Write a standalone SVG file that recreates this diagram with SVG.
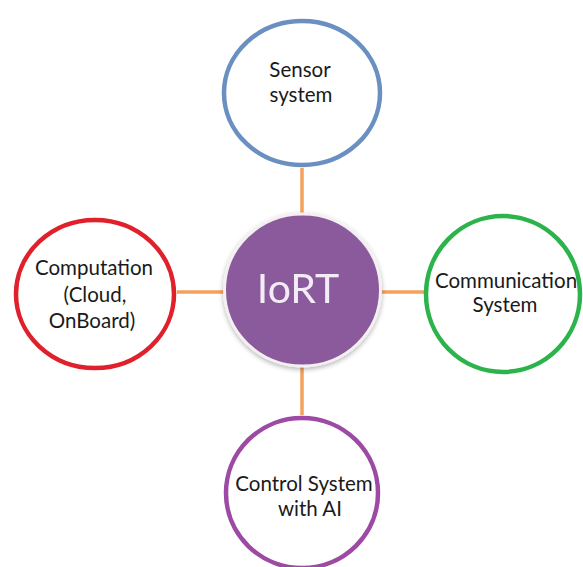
<svg xmlns="http://www.w3.org/2000/svg" width="583" height="567" viewBox="0 0 583 567">
  <style>
    .node { fill: #ffffff; stroke-width: 4.5; }
    .label { font-family: Lato, "Open Sans", "Liberation Sans", sans-serif; font-size: 20.5px; fill: #1a1a1a; text-anchor: middle; }
    .link { stroke: #f4a15c; stroke-width: 3.5; stroke-linecap: butt; }
  </style>
  <defs>
    <filter id="softShadow" x="-20%" y="-20%" width="140%" height="140%">
      <feGaussianBlur in="SourceAlpha" stdDeviation="2.5"/>
      <feOffset dx="0" dy="2"/>
      <feComponentTransfer><feFuncA type="linear" slope="0.3"/></feComponentTransfer>
      <feMerge><feMergeNode/><feMergeNode in="SourceGraphic"/></feMerge>
    </filter>
  </defs>
  <rect width="583" height="567" fill="#ffffff"/>

  <!-- connectors from the hub to each subsystem -->
  <g id="connectors">
    <line class="link" x1="302" y1="168" x2="302" y2="214"/>
    <line class="link" x1="302" y1="367" x2="302" y2="415"/>
    <line class="link" x1="177" y1="292" x2="225" y2="292"/>
    <line class="link" x1="380" y1="292" x2="424" y2="292"/>
  </g>

  <g id="sensor">
    <ellipse class="node" cx="302" cy="93" rx="78" ry="72" stroke="#6a8fc1"/>
    <text class="label" x="300" y="77">Sensor</text>
    <text class="label" x="301" y="102">system</text>
  </g>

  <g id="iort" filter="url(#softShadow)">
    <ellipse cx="302.5" cy="290" rx="78" ry="76" fill="#8a5a9c" stroke="#f4f0f2" stroke-width="3"/>
    <text x="298" y="303" font-family="Lato, 'Open Sans', 'Liberation Sans', sans-serif" font-size="41" fill="#f3ecf6" text-anchor="middle">IoRT</text>
  </g>

  <g id="computation">
    <ellipse class="node" cx="95" cy="294" rx="79" ry="74" stroke="#e0202b"/>
    <text class="label" x="94" y="275">Computation</text>
    <text class="label" x="95" y="302">(Cloud,</text>
    <text class="label" x="92" y="328">OnBoard)</text>
  </g>

  <g id="communication">
    <ellipse class="node" cx="503" cy="294" rx="77" ry="78" stroke="#2cb34b"/>
    <text class="label" x="506" y="288">Communication</text>
    <text class="label" x="505" y="312">System</text>
  </g>

  <g id="control">
    <ellipse class="node" cx="302" cy="493" rx="76" ry="75" stroke="#9c4aa4"/>
    <text class="label" x="304" y="491">Control System</text>
    <text class="label" x="310" y="516">with AI</text>
  </g>
</svg>
